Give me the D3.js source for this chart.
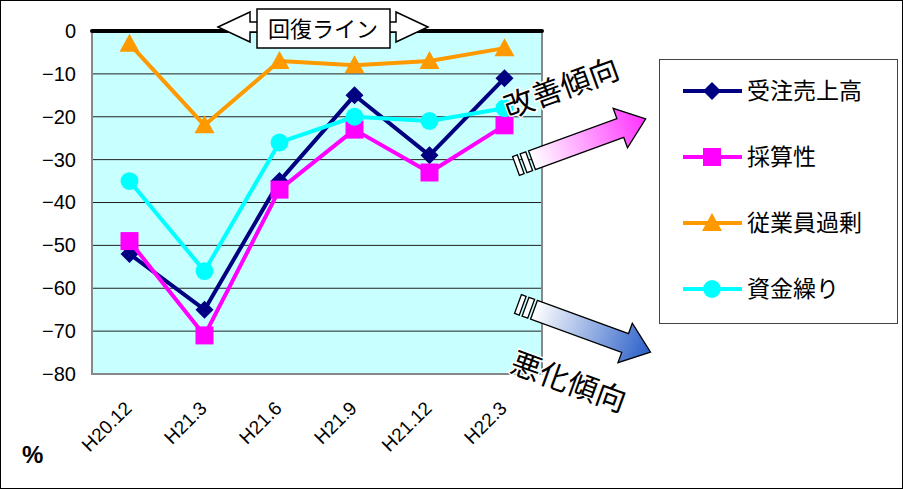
<!DOCTYPE html>
<html>
<head>
<meta charset="utf-8">
<script src="https://cdn.jsdelivr.net/npm/d3@7"></script>
<style>
body { margin: 0; background: #fff; }
svg { display: block; }
</style>
</head>
<body>
<div id="chart"></div>
<script>
// survey DI chart (H20.12 - H22.3)

var width = 903, height = 489;

var categories = ["H20.12", "H21.3", "H21.6", "H21.9", "H21.12", "H22.3"];
var juchu = [-52, -65, -35, -15, -29, -11];      // 受注売上高
var saisan = [-49, -71, -37, -23, -33, -22];     // 採算性
var jugyoin = [-3, -22, -7, -8, -7, -4];         // 従業員過剰
var shikin = [-35, -56, -26, -20, -21, -18];     // 資金繰り
var seriesNames = ["受注売上高", "採算性", "従業員過剰", "資金繰り"];
var yTicks = [0, -10, -20, -30, -40, -50, -60, -70, -80];

var series = [
	{name: seriesNames[0], values: juchu, color: "#000080", marker: "diamond"},
	{name: seriesNames[1], values: saisan, color: "#ff00ff", marker: "square"},
	{name: seriesNames[2], values: jugyoin, color: "#ff9900", marker: "triangle"},
	{name: seriesNames[3], values: shikin, color: "#00ffff", marker: "circle"}
];

var plot = {left: 92, right: 542, top: 31, bottom: 374};

var x = d3.scaleBand().domain(categories).range([plot.left, plot.right]);
var y = d3.scaleLinear().domain([-80, 0]).range([plot.bottom, plot.top]);

var svg = d3.select("#chart").append("svg")
	.attr("width", width)
	.attr("height", height);

var defs = svg.append("defs");

// outer frame
svg.append("rect")
	.attr("x", 0.5).attr("y", 0.5)
	.attr("width", width - 1).attr("height", height - 1)
	.attr("fill", "#fff").attr("stroke", "#000");

// plot background
svg.append("rect")
	.attr("x", plot.left).attr("y", plot.top)
	.attr("width", plot.right - plot.left).attr("height", plot.bottom - plot.top)
	.attr("fill", "#c8ffff");

// grid lines
svg.append("g")
	.selectAll("line")
	.data(yTicks.filter(function(d) { return d != 0 && d != -80; }))
	.enter().append("line")
	.attr("x1", plot.left).attr("x2", plot.right)
	.attr("y1", function(d) { return y(d); })
	.attr("y2", function(d) { return y(d); })
	.attr("stroke", "#222").attr("stroke-width", 1);

// plot border (left, bottom, right)
svg.append("path")
	.attr("d", "M" + plot.left + "," + plot.top + "V" + plot.bottom + "H" + plot.right + "V" + plot.top)
	.attr("fill", "none").attr("stroke", "#888").attr("stroke-width", 2);

// recovery line at 0
svg.append("line")
	.attr("x1", plot.left).attr("x2", plot.right)
	.attr("y1", y(0)).attr("y2", y(0))
	.attr("stroke", "#000").attr("stroke-width", 4)
	.attr("stroke-linecap", "round");

// y axis labels
var yAxis = d3.axisLeft(y).tickValues(yTicks).tickSize(0).tickPadding(16);
var yg = svg.append("g")
	.attr("transform", "translate(" + plot.left + ",0)")
	.call(yAxis);
yg.select(".domain").remove();
yg.selectAll("text")
	.attr("font-family", "Liberation Sans, Arial, sans-serif")
	.attr("font-size", 20)
	.attr("fill", "#000");

// x axis labels
svg.append("g")
	.selectAll("text")
	.data(categories)
	.enter().append("text")
	.attr("transform", function(d) {
		return "translate(" + (x(d) + x.bandwidth() / 2 - 6) + ",400) rotate(-45)";
	})
	.attr("text-anchor", "end")
	.attr("dy", "0.7em")
	.attr("font-family", "Liberation Sans, Arial, sans-serif")
	.attr("font-size", 19)
	.text(function(d) { return d; });

svg.append("text")
	.attr("x", 22).attr("y", 463)
	.attr("font-family", "Liberation Sans, Arial, sans-serif")
	.attr("font-size", 24).attr("font-weight", "bold")
	.text("%");

function markerPath(type) {
	if (type == "diamond") return "M0,-9L9,0L0,9L-9,0Z";
	if (type == "square") return "M-9,-9H9V9H-9Z";
	if (type == "triangle") return "M0,-10L10,8H-10Z";
	return d3.symbol(d3.symbolCircle, 250)();
}

var line = d3.line()
	.x(function(d, i) { return x(categories[i]) + x.bandwidth() / 2; })
	.y(function(d) { return y(d); });

series.forEach(function(s) {
	var g = svg.append("g");
	g.append("path")
		.attr("d", line(s.values))
		.attr("fill", "none")
		.attr("stroke", s.color)
		.attr("stroke-width", 4)
		.attr("stroke-linejoin", "round");
	g.selectAll("path.mk")
		.data(s.values)
		.enter().append("path")
		.attr("class", "mk")
		.attr("d", markerPath(s.marker))
		.attr("transform", function(d, i) {
			return "translate(" + (x(categories[i]) + x.bandwidth() / 2) + "," + y(d) + ")";
		})
		.attr("fill", s.color);
});

// 回復ライン label with double arrow
var rg = svg.append("g");
rg.append("path")
	.attr("d", "M218,27 L250,12 L250,22 L262,22 L262,32 L250,32 L250,42 Z" +
		" M428,27 L396,12 L396,22 L384,22 L384,32 L396,32 L396,42 Z")
	.attr("fill", "#fff").attr("stroke", "#000").attr("stroke-width", 1.5)
	.attr("stroke-linejoin", "miter");
rg.append("rect")
	.attr("x", 257).attr("y", 9).attr("width", 133).attr("height", 39)
	.attr("fill", "#fff").attr("stroke", "#000").attr("stroke-width", 1.5);
rg.append("text")
	.attr("x", 323).attr("y", 37)
	.attr("text-anchor", "middle")
	.attr("font-family", "Noto Sans CJK JP, sans-serif")
	.attr("font-size", 22)
	.text("回復ライン");

// block arrows
function blockArrow(id, tx, ty, angle, len, c0, c1) {
	var grad = defs.append("linearGradient")
		.attr("id", id)
		.attr("x1", "0%").attr("x2", "100%").attr("y1", "0%").attr("y2", "0%");
	grad.append("stop").attr("offset", "0%").attr("stop-color", c0);
	grad.append("stop").attr("offset", "100%").attr("stop-color", c1);
	var g = svg.append("g")
		.attr("transform", "translate(" + tx + "," + ty + ") rotate(" + angle + ")");
	g.append("rect").attr("x", 0).attr("y", -10).attr("width", 5).attr("height", 20)
		.attr("fill", "#fff").attr("stroke", "#000").attr("stroke-width", 1.3);
	g.append("rect").attr("x", 8).attr("y", -10).attr("width", 6).attr("height", 20)
		.attr("fill", "#fff").attr("stroke", "#000").attr("stroke-width", 1.3);
	g.append("path")
		.attr("d", "M17,-10 H" + (len - 27) + " V-21 L" + len + ",0 L" + (len - 27) + ",21 V10 H17 Z")
		.attr("fill", "url(#" + id + ")")
		.attr("stroke", "#000").attr("stroke-width", 1.3);
}

blockArrow("gUp", 516, 166, -20, 138, "#ffffff", "#ff33ff");
blockArrow("gDown", 518, 304, 20, 141, "#ffffff", "#2a5fc8");

svg.append("text")
	.attr("transform", "translate(565,98) rotate(-20)")
	.attr("text-anchor", "middle")
	.attr("font-family", "Noto Sans CJK JP, sans-serif")
	.attr("font-size", 30)
	.attr("stroke", "#fff").attr("stroke-width", 3).attr("paint-order", "stroke")
	.text("改善傾向");

svg.append("text")
	.attr("transform", "translate(565,392) rotate(20)")
	.attr("text-anchor", "middle")
	.attr("font-family", "Noto Sans CJK JP, sans-serif")
	.attr("font-size", 30)
	.attr("stroke", "#fff").attr("stroke-width", 3).attr("paint-order", "stroke")
	.text("悪化傾向");

// legend
var legend = svg.append("g");
legend.append("rect")
	.attr("x", 659.5).attr("y", 59.5).attr("width", 238).attr("height", 264)
	.attr("fill", "#fff").attr("stroke", "#444").attr("stroke-width", 1);
var li = legend.selectAll("g.item")
	.data(series)
	.enter().append("g")
	.attr("class", "item")
	.attr("transform", function(d, i) { return "translate(0," + (91 + i * 66) + ")"; });
li.append("line")
	.attr("x1", 683).attr("x2", 742)
	.attr("stroke", function(d) { return d.color; })
	.attr("stroke-width", 4);
li.append("path")
	.attr("d", function(d) { return markerPath(d.marker); })
	.attr("transform", "translate(712,0)")
	.attr("fill", function(d) { return d.color; });
li.append("text")
	.attr("x", 747).attr("y", 0).attr("dy", "0.36em")
	.attr("font-family", "Noto Sans CJK JP, sans-serif")
	.attr("font-size", 23)
	.text(function(d) { return d.name; });
</script>
</body>
</html>
